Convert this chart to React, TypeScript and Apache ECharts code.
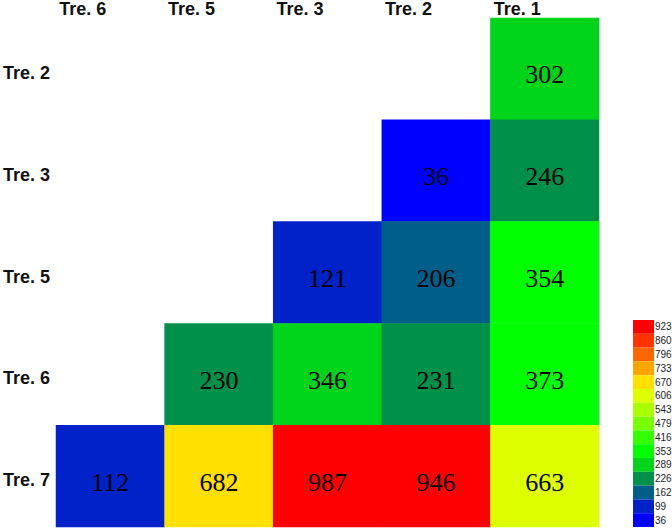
import React, { useEffect, useRef } from "react";
import * as echarts from "echarts";

const columns = ["Tre. 6", "Tre. 5", "Tre. 3", "Tre. 2", "Tre. 1"];
const rows = ["Tre. 2", "Tre. 3", "Tre. 5", "Tre. 6", "Tre. 7"];

// values per row (columns order: Tre. 6, Tre. 5, Tre. 3, Tre. 2, Tre. 1)
const rowTre2 = [null, null, null, null, 302];
const rowTre3 = [null, null, null, 36, 246];
const rowTre5 = [null, null, 121, 206, 354];
const rowTre6 = [null, 230, 346, 231, 373];
const rowTre7 = [112, 682, 987, 946, 663];
const matrix = [rowTre2, rowTre3, rowTre5, rowTre6, rowTre7];

const legendBreaks = [36, 99, 162, 226, 289, 353, 416, 479, 543, 606, 670, 733, 796, 860, 923];
const legendColors = [
  "#0000ff",
  "#0022c8",
  "#005f88",
  "#00904a",
  "#00d51c",
  "#00ff00",
  "#33ff00",
  "#77ff00",
  "#aaff00",
  "#ddff00",
  "#ffe000",
  "#ffa500",
  "#ff6600",
  "#ff3300",
  "#ff0000",
];

export default function App() {
  const ref = useRef<HTMLDivElement>(null);
  useEffect(() => {
    if (!ref.current) return;
    const chart = echarts.init(ref.current, undefined, { renderer: "svg" });
    const data: any[] = [];
    matrix.forEach((r, yi) => {
      r.forEach((v, xi) => {
        if (v !== null) data.push([xi, yi, v]);
      });
    });
    const pieces = legendBreaks.map((b, i) => {
      const p: any = { gte: b, label: String(b), color: legendColors[i] };
      if (i < legendBreaks.length - 1) p.lt = legendBreaks[i + 1];
      return p;
    });
    pieces[0].gte = 0;
    chart.setOption({
      animation: false,
      backgroundColor: "#ffffff",
      grid: { left: 55, top: 17, width: 544, height: 510 },
      xAxis: {
        type: "category",
        data: columns,
        position: "top",
        axisLine: { show: false },
        axisTick: { show: false },
        splitLine: { show: false },
        axisLabel: {
          margin: 9,
          verticalAlign: "middle",
          formatter: (v: string) => "{a|" + v + "}",
          rich: {
            a: {
              width: 102,
              align: "left",
              fontFamily: "Liberation Sans",
              fontWeight: "bold",
              fontSize: 18,
              color: "#111",
            },
          },
        },
      },
      yAxis: {
        type: "category",
        data: rows,
        inverse: true,
        axisLine: { show: false },
        axisTick: { show: false },
        splitLine: { show: false },
        axisLabel: {
          align: "left",
          margin: 53,
          verticalAlign: "top",
          lineHeight: 8,
          fontFamily: "Liberation Sans",
          fontWeight: "bold",
          fontSize: 18,
          color: "#111",
        },
      },
      visualMap: {
        type: "piecewise",
        pieces,
        orient: "vertical",
        align: "left",
        left: 633,
        top: 320,
        itemWidth: 21,
        itemHeight: 13.8,
        itemGap: 0,
        itemSymbol: "rect",
        textGap: 1,
        selectedMode: false,
        hoverLink: false,
        padding: 0,
        textStyle: {
          fontFamily: "Liberation Sans",
          fontSize: 10,
          color: "#222",
        },
      },
      series: [
        {
          type: "heatmap",
          data,
          label: {
            show: true,
            fontFamily: "Liberation Serif",
            fontSize: 26,
            color: "#000",
            offset: [0, 6],
          },
          itemStyle: { borderWidth: 0 },
          emphasis: { disabled: true },
        },
      ],
    });
    return () => chart.dispose();
  }, []);
  return <div ref={ref} style={{ width: 672, height: 529, position: "absolute", left: 0, top: 0 }} />;
}
